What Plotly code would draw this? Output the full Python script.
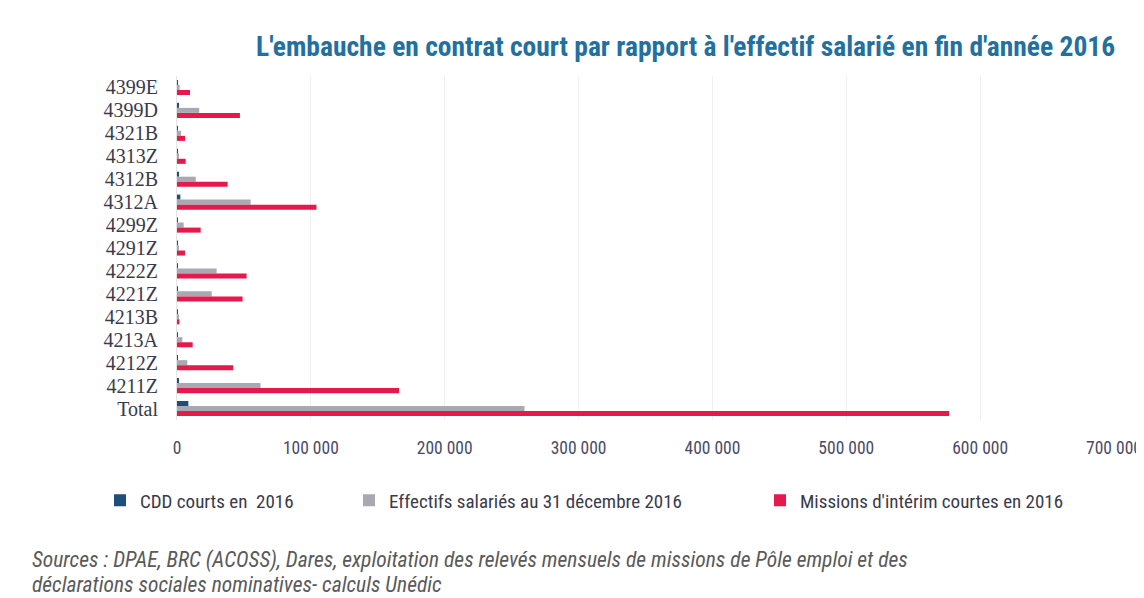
import plotly.graph_objects as go

categories = ["4399E", "4399D", "4321B", "4313Z", "4312B", "4312A", "4299Z",
              "4291Z", "4222Z", "4221Z", "4213B", "4213A", "4212Z", "4211Z", "Total"]

cdd_courts = [300, 1500, 400, 300, 800, 2500, 500, 300, 600, 500, 200, 600, 700, 1200, 8500]
effectifs = [2000, 16600, 3000, 1500, 14000, 55000, 5000, 1500, 29600, 25900, 800, 4000, 7700, 62400, 259600]
missions = [9700, 47000, 6000, 6500, 37800, 104200, 17700, 6000, 52000, 49000, 1800, 11700, 42000, 165900, 576800]

series_names = ["CDD courts en  2016", "Effectifs salariés au 31 décembre 2016",
                "Missions d'intérim courtes en 2016"]

x_tickvals = [0, 100000, 200000, 300000, 400000, 500000, 600000, 700000]
x_ticktext = ["0", "100 000", "200 000", "300 000", "400 000", "500 000", "600 000", "700 000"]

title_text = "L'embauche en contrat court par rapport à l'effectif salarié en fin d'année 2016"
source_line1 = "Sources : DPAE, BRC (ACOSS), Dares, exploitation des relevés mensuels de missions de Pôle emploi et des"
source_line2 = "déclarations sociales nominatives- calculs Unédic"

colors = ["#1F4E79", "#A9A9B3", "#E5194B"]

# page body has an 8px default margin: figure is sized to fit the 1144x598 window
PAD = 8
W, H = 1144 - PAD, 598 - PAD
L, R, T, B = 177 - PAD, 30, 76 - PAD, H - (420.5 - PAD)

narrow = "Liberation Sans Narrow, Roboto Condensed, Arial Narrow, Open Sans, sans-serif"

fig = go.Figure()
legends = ["legend", "legend2", "legend3"]
for vals, name, col, lg in zip([cdd_courts, effectifs, missions], series_names, colors, legends):
    fig.add_trace(go.Bar(y=categories, x=vals, orientation="h", name=name,
                         marker=dict(color=col, line=dict(width=0)), legend=lg))

def px_x(p):
    return (p - PAD - L) / (W - L - R)

def px_y(p):
    return (H - B - (p - PAD)) / (H - T - B)

legend_common = dict(orientation="h", yanchor="middle", xanchor="left",
                     font=dict(family=narrow, size=19, color="#3a3a4a"),
                     bgcolor="rgba(0,0,0,0)", itemwidth=30)
text_starts = [140, 389, 800]
fig.update_layout(
    legend=dict(x=px_x(text_starts[0] - 40), y=px_y(501), **legend_common),
    legend2=dict(x=px_x(text_starts[1] - 40), y=px_y(501), **legend_common),
    legend3=dict(x=px_x(text_starts[2] - 40), y=px_y(501), **legend_common),
)

fig.update_layout(
    width=W, height=H,
    margin=dict(l=L, r=R, t=T, b=B, autoexpand=False),
    paper_bgcolor="white", plot_bgcolor="white",
    barmode="group", bargap=0.34, bargroupgap=0,
    showlegend=True,
    xaxis=dict(range=[0, 700000], tickvals=x_tickvals, ticktext=x_ticktext,
               showgrid=True, gridcolor="#F0F0F0", gridwidth=1, zeroline=False,
               showline=False, ticks="outside", ticklen=12, tickcolor="rgba(0,0,0,0)",
               tickfont=dict(family=narrow, size=17.5, color="#4a4a66"), fixedrange=True),
    yaxis=dict(categoryorder="array", categoryarray=categories, autorange="reversed",
               tickmode="array", tickvals=categories, ticktext=categories,
               showgrid=False, zeroline=False, showline=True, linecolor="#E4E4E4", linewidth=1,
               ticks="outside", ticklen=14, tickcolor="rgba(0,0,0,0)",
               tickfont=dict(family="Liberation Serif, DejaVu Serif, serif", size=20, color="#3a3a4a"),
               fixedrange=True),
)

fig.add_annotation(text="<b>" + title_text + "</b>", xref="paper", yref="paper",
                   x=px_x(1117), y=px_y(46), xanchor="right", yanchor="middle", showarrow=False,
                   font=dict(family=narrow, size=27.5, color="#23709F"))

for line, yc in [(source_line1, 561), (source_line2, 585)]:
    fig.add_annotation(text="<i>" + line + "</i>", xref="paper", yref="paper",
                       x=px_x(30), y=px_y(yc), xanchor="left", yanchor="middle", showarrow=False,
                       align="left", font=dict(family=narrow, size=21.5, color="#5a5a5a"))

fig.write_html("out.html")
